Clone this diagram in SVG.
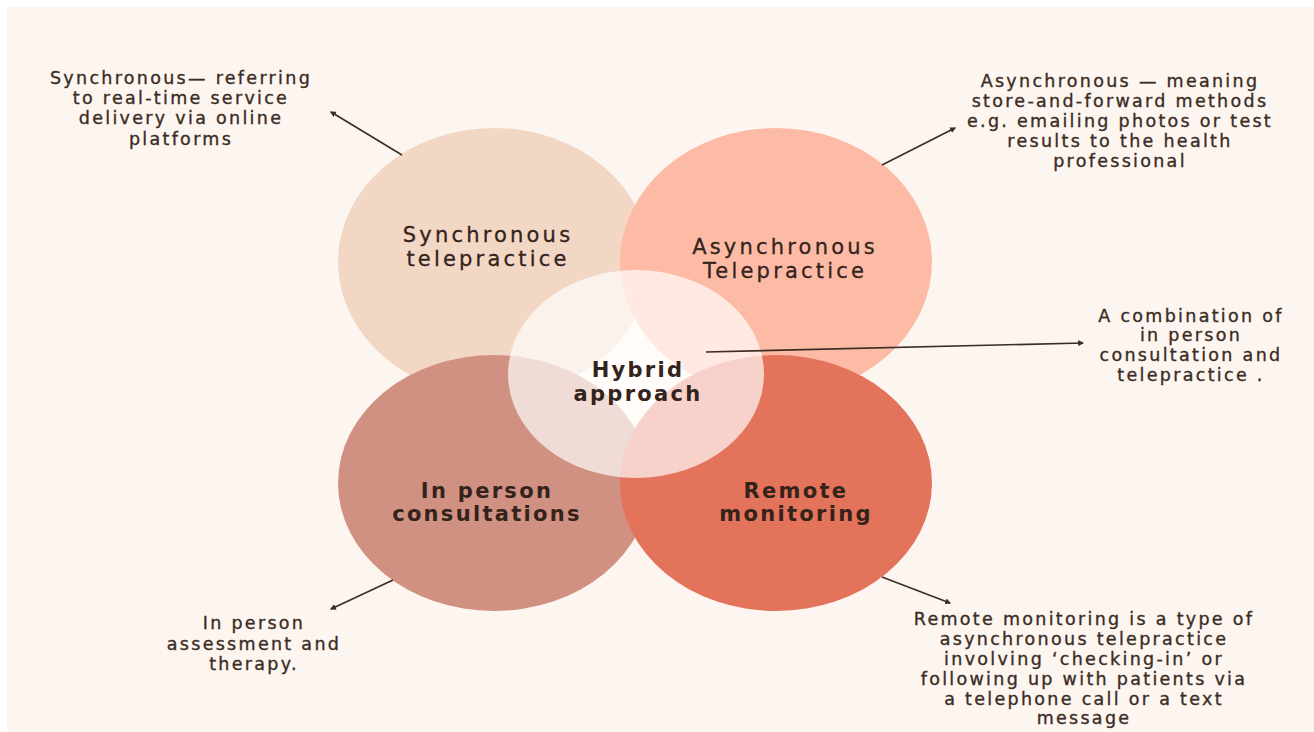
<svg xmlns="http://www.w3.org/2000/svg" width="1314" height="732" viewBox="0 0 1314 732">
<defs>
<marker id="ah" viewBox="0 0 10 10" refX="8" refY="5" markerWidth="6" markerHeight="6" orient="auto" markerUnits="userSpaceOnUse">
<path d="M0,0 L10,5 L0,10 z" fill="#3b2c24"/>
</marker>
<style>
.lbl{font-family:"DejaVu Sans","Noto Sans",sans-serif;font-size:21px;fill:#33231b;text-anchor:middle;letter-spacing:3.2px;stroke:#33231b;stroke-width:0.3px}
.b{font-weight:bold;letter-spacing:2.3px;stroke-width:0}
.ann{font-family:"DejaVu Sans","Noto Sans",sans-serif;font-size:17.5px;fill:#3b2c24;text-anchor:middle;letter-spacing:2.3px;stroke:#3b2c24;stroke-width:0.35px}
.con{stroke:#3b2c24;stroke-width:1.6;fill:none;marker-end:url(#ah)}
</style>
</defs>
<rect x="0" y="0" width="1314" height="732" fill="#ffffff"/>
<rect x="7" y="7" width="1307" height="725" fill="#fdf6f0"/>

<g id="sync">
<ellipse cx="494" cy="262" rx="156" ry="134" fill="#f3d7c5"/>
</g>
<g id="async">
<ellipse cx="776" cy="262" rx="156" ry="134" fill="#fdbba6"/>
</g>
<g id="inperson">
<ellipse cx="494" cy="483" rx="156" ry="128" fill="#d09182"/>
</g>
<g id="remote">
<ellipse cx="776" cy="483" rx="156" ry="128" fill="#e4735b"/>
</g>
<g id="hybrid">
<ellipse cx="636" cy="374" rx="128" ry="104" fill="#ffffff" fill-opacity="0.68"/>
</g>

<g id="sync-label"><text class="lbl"><tspan x="488" y="242">Synchronous</tspan><tspan x="488" y="266">telepractice</tspan></text></g>
<g id="async-label"><text class="lbl"><tspan x="785" y="254">Asynchronous</tspan><tspan x="785" y="278">Telepractice</tspan></text></g>
<g id="hybrid-label"><text class="lbl b"><tspan x="638" y="377">Hybrid</tspan><tspan x="638" y="401">approach</tspan></text></g>
<g id="inperson-label"><text class="lbl b"><tspan x="487" y="498">In person</tspan><tspan x="487" y="521">consultations</tspan></text></g>
<g id="remote-label"><text class="lbl b"><tspan x="796" y="498">Remote</tspan><tspan x="796" y="521">monitoring</tspan></text></g>

<g id="connectors">
<line class="con" x1="402" y1="155" x2="331" y2="112"/>
<line class="con" x1="882" y1="165" x2="955" y2="128"/>
<line class="con" x1="706" y1="352" x2="1083" y2="343" stroke-width="1.2"/>
<line class="con" x1="393" y1="580" x2="331" y2="609"/>
<line class="con" x1="882" y1="577" x2="950" y2="603"/>
</g>

<g id="ann-sync"><text class="ann"><tspan x="181" y="84">Synchronous— referring</tspan><tspan x="181" y="104">to real-time service</tspan><tspan x="181" y="124">delivery via online</tspan><tspan x="181" y="145">platforms</tspan></text></g>
<g id="ann-async"><text class="ann"><tspan x="1120" y="87">Asynchronous — meaning</tspan><tspan x="1120" y="107">store-and-forward methods</tspan><tspan x="1120" y="127">e.g. emailing photos or test</tspan><tspan x="1120" y="147">results to the health</tspan><tspan x="1120" y="167">professional</tspan></text></g>
<g id="ann-hybrid"><text class="ann"><tspan x="1191" y="322">A combination of</tspan><tspan x="1191" y="341">in person</tspan><tspan x="1191" y="361">consultation and</tspan><tspan x="1191" y="381">telepractice .</tspan></text></g>
<g id="ann-inperson"><text class="ann"><tspan x="254" y="629">In person</tspan><tspan x="254" y="650">assessment and</tspan><tspan x="254" y="670">therapy.</tspan></text></g>
<g id="ann-remote"><text class="ann"><tspan x="1084" y="625">Remote monitoring is a type of</tspan><tspan x="1084" y="645">asynchronous telepractice</tspan><tspan x="1084" y="665">involving ‘checking-in’ or</tspan><tspan x="1084" y="685">following up with patients via</tspan><tspan x="1084" y="705">a telephone call or a text</tspan><tspan x="1084" y="724">message</tspan></text></g>
</svg>
